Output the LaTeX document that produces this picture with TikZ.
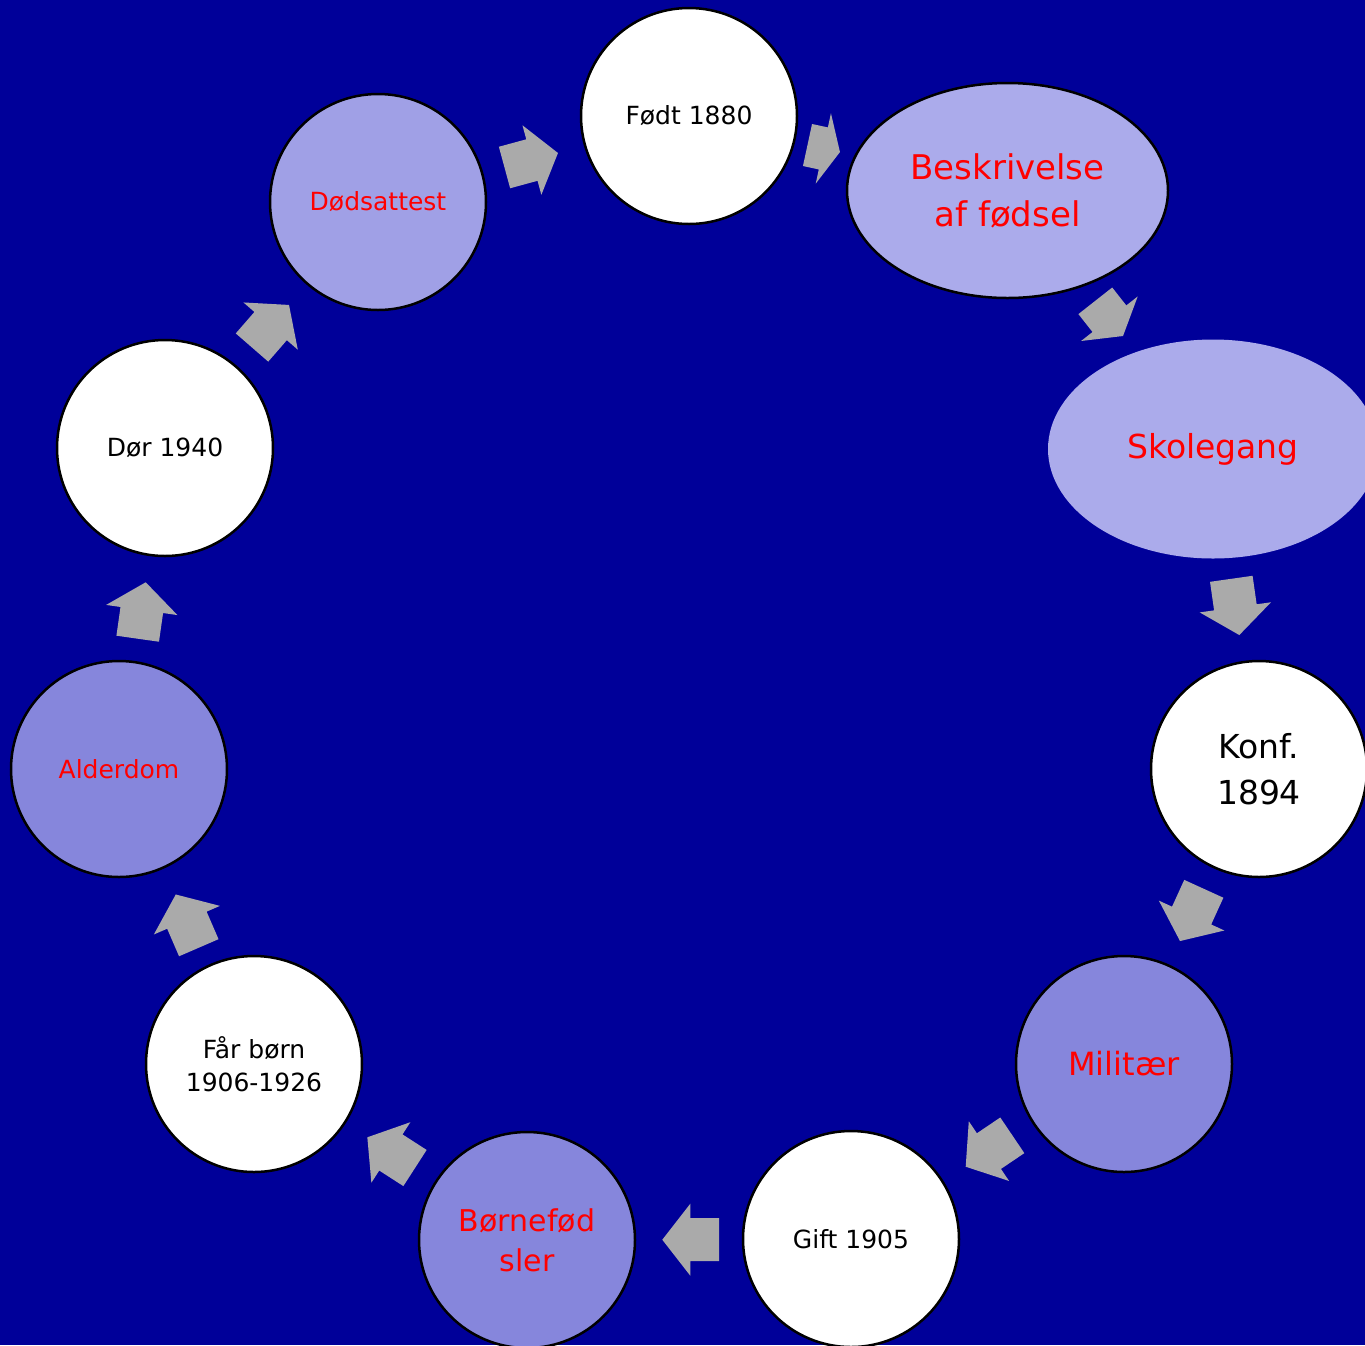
\documentclass[tikz,border=0pt]{standalone}
\usepackage{fontspec}
\setmainfont{DejaVu Sans}
\usetikzlibrary{shapes.geometric}
\definecolor{bgblue}{RGB}{0,0,153}
\definecolor{arrowgray}{RGB}{170,170,170}
\definecolor{lilaclight}{RGB}{171,171,235}
\definecolor{lilacmid}{RGB}{160,160,230}
\definecolor{lilacdark}{RGB}{134,134,220}
\definecolor{txtred}{RGB}{255,0,0}
\newcommand{\blkarrow}[5]{%
  \fill[arrowgray, shift={(#1,#2)}, rotate=#3]
    (0,-21.5) -- (#4-#5,-21.5) -- (#4-#5,-36) -- (#4,0) -- (#4-#5,36) -- (#4-#5,21.5) -- (0,21.5) -- cycle;}
\begin{document}
\begin{tikzpicture}[x=1pt,y=-1pt,
  disc/.style={circle, draw=black, line width=2.5pt, minimum size=216pt, inner sep=0pt, align=center},
  oval/.style={ellipse, draw=black, line width=2.5pt, inner sep=0pt, align=center},
  whitefill/.style={fill=white, text=black},
  small/.style={font=\fontsize{25}{33}\selectfont},
  ]
\fill[bgblue] (0,0) rectangle (1365,1345);
\clip (0,0) rectangle (1365,1345);

% nodes
\node[disc, whitefill, small] (fodt) at (689,116) {Født 1880};
\node[oval, fill=lilaclight, text=txtred, minimum width=321pt, minimum height=215pt,
      font=\fontsize{34}{47}\selectfont] (beskr) at (1007.5,190.5) {Beskrivelse\\af fødsel};
\node[ellipse, fill=lilaclight, text=txtred, minimum width=330pt, minimum height=219pt,
      inner sep=0pt, font=\fontsize{33}{40}\selectfont] (skole) at (1213,449) {Skolegang};
\node[disc, whitefill, font=\fontsize{33}{46}\selectfont] (konf) at (1259,769) {Konf.\\1894};
\node[disc, fill=lilacdark, text=txtred, font=\fontsize{32}{40}\selectfont] (milit) at (1124,1064) {Militær};
\node[disc, whitefill, small] (gift) at (851,1239) {Gift 1905};
\node[disc, fill=lilacdark, text=txtred, font=\fontsize{30}{40}\selectfont] (bfod) at (527,1240) {Børnefød\\sler};
\node[disc, whitefill, small] (faar) at (254,1064) {Får børn\\1906-1926};
\node[disc, fill=lilacdark, text=txtred, small] (alder) at (119,769) {Alderdom};
\node[disc, whitefill, small] (dor) at (165,448) {Dør 1940};
\node[disc, fill=lilacmid, text=txtred, small] (dods) at (378,202) {Dødsattest};

% block arrows: tail-mid x, y, angle, length, head length
\blkarrow{504.5}{167.5}{15.2}{55.4}{27}
\blkarrow{807.5}{145}{-12.2}{33.2}{17}
\blkarrow{1095.3}{300.8}{-51.8}{44.8}{22}
\blkarrow{1231.3}{578.8}{-81.9}{56.8}{28}
\blkarrow{1203.8}{888.8}{-114.5}{57.4}{28}
\blkarrow{1012.3}{1135.3}{-146}{56.2}{28}
\blkarrow{719}{1239.7}{180}{56.7}{28}
\blkarrow{415}{1168}{147.2}{56.7}{28}
\blkarrow{198.8}{947.7}{113.4}{58}{28}
\blkarrow{137.7}{638.7}{81.9}{57}{28}
\blkarrow{252}{347.5}{49}{56.4}{28}
\end{tikzpicture}
\end{document}
